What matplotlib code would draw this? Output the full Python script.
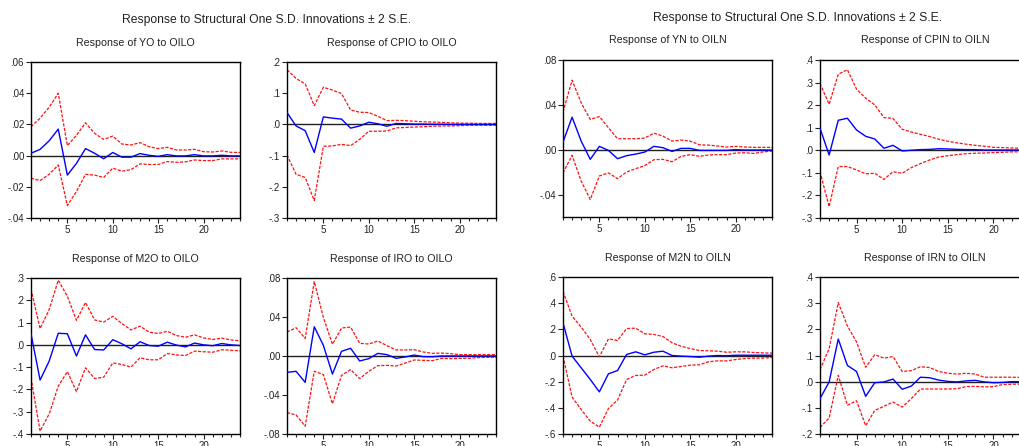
import matplotlib
matplotlib.use("Agg")
import matplotlib.pyplot as plt
from matplotlib.ticker import FixedLocator, MultipleLocator, FuncFormatter
import numpy as np

plt.rcParams['font.family'] = ['Liberation Sans', 'DejaVu Sans']

periods = list(range(1, 25))

# ---------------- Left block (O variables, shock OILO) ----------------
yo_resp = [0.0015, 0.004, 0.0095, 0.017, -0.0125, -0.005, 0.0045, 0.0015, -0.002, 0.002, -0.001, -0.001,
           0.0013, 0.0002, -0.0005, 0.0006, -0.0002, -0.0002, 0.0006, -0.0002, -0.0002, 0.0002, -0.0002, -0.0002]
yo_upper = [0.0185, 0.024, 0.031, 0.040, 0.0064, 0.013, 0.021, 0.0143, 0.0104, 0.0125, 0.0074, 0.0068,
            0.0083, 0.0057, 0.0045, 0.0053, 0.0036, 0.0036, 0.004, 0.0025, 0.0023, 0.003, 0.0021, 0.002]
yo_lower = [-0.0145, -0.016, -0.012, -0.006, -0.032, -0.023, -0.012, -0.0125, -0.014, -0.008, -0.010, -0.009,
            -0.0053, -0.0057, -0.0057, -0.0038, -0.0043, -0.004, -0.0028, -0.0032, -0.0032, -0.0021, -0.0021, -0.0021]

cpio_resp = [0.038, -0.005, -0.02, -0.09, 0.024, 0.02, 0.017, -0.012, -0.005, 0.007, 0.002, -0.006,
             0.003, 0.002, 0.001, 0.001, 0.0005, 0.0005, 0.0, 0.0, 0.0, 0.0, 0.0, 0.0]
cpio_upper = [0.175, 0.147, 0.13, 0.06, 0.119, 0.11, 0.099, 0.046, 0.039, 0.038, 0.026, 0.012,
              0.013, 0.012, 0.01, 0.0085, 0.0075, 0.0065, 0.005, 0.004, 0.004, 0.003, 0.003, 0.003]
cpio_lower = [-0.098, -0.16, -0.17, -0.244, -0.07, -0.069, -0.064, -0.068, -0.048, -0.022, -0.022, -0.021,
              -0.011, -0.01, -0.0085, -0.0075, -0.006, -0.005, -0.005, -0.004, -0.003, -0.003, -0.003, -0.003]

m2o_resp = [0.05, -0.158, -0.073, 0.052, 0.05, -0.05, 0.045, -0.021, -0.023, 0.023, 0.005, -0.018,
            0.014, -0.003, -0.006, 0.012, -0.001, -0.009, 0.008, 0.0, -0.004, 0.006, 0.0, -0.003]
m2o_upper = [0.25, 0.073, 0.158, 0.29, 0.218, 0.11, 0.19, 0.112, 0.102, 0.128, 0.096, 0.067,
             0.084, 0.057, 0.051, 0.061, 0.042, 0.034, 0.045, 0.031, 0.024, 0.03, 0.022, 0.018]
m2o_lower = [-0.148, -0.387, -0.31, -0.185, -0.12, -0.21, -0.103, -0.151, -0.145, -0.081, -0.088, -0.10,
             -0.058, -0.067, -0.067, -0.039, -0.045, -0.048, -0.028, -0.031, -0.033, -0.022, -0.024, -0.027]

iro_resp = [-0.0168, -0.0157, -0.027, 0.030, 0.011, -0.0185, 0.0048, 0.0079, -0.0051, -0.0027, 0.0027, 0.0014,
            -0.0024, -0.001, 0.001, -0.0007, -0.0008, 0.0, 0.0, 0.0, 0.0, 0.0, 0.0, 0.0]
iro_upper = [0.0246, 0.029, 0.018, 0.0762, 0.0397, 0.012, 0.0287, 0.0297, 0.013, 0.0123, 0.0154, 0.0106,
             0.0062, 0.0062, 0.0065, 0.0041, 0.0027, 0.003, 0.0024, 0.0014, 0.0014, 0.0014, 0.0014, 0.0014]
iro_lower = [-0.058, -0.0605, -0.072, -0.0157, -0.019, -0.049, -0.0198, -0.014, -0.0232, -0.0157, -0.0099, -0.0096,
             -0.0103, -0.0072, -0.0041, -0.0044, -0.0048, -0.0024, -0.0027, -0.0024, -0.0024, -0.0017, -0.0014, -0.0014]

# ---------------- Right block (N variables, shock OILN) ----------------
yn_resp = [0.0068, 0.029, 0.0077, -0.0086, 0.003, -0.0006, -0.008, -0.0053, -0.0039, -0.0021, 0.003, 0.0018,
           -0.0015, 0.0012, 0.0012, -0.0006, -0.0006, -0.0006, -0.0006, 0.0, -0.0003, -0.0003, -0.0003, -0.0003]
yn_upper = [0.0335, 0.062, 0.0418, 0.027, 0.0296, 0.0196, 0.0098, 0.0098, 0.0098, 0.0104, 0.0148, 0.0121,
            0.0077, 0.0086, 0.0077, 0.0044, 0.0041, 0.0033, 0.0024, 0.003, 0.0024, 0.0021, 0.0021, 0.0021]
yn_lower = [-0.0207, -0.005, -0.028, -0.0444, -0.0234, -0.0207, -0.0258, -0.0199, -0.0169, -0.0142, -0.0089, -0.0086,
            -0.0107, -0.0059, -0.0044, -0.0059, -0.0047, -0.0044, -0.0044, -0.003, -0.0027, -0.0033, -0.002, -0.0012]

cpin_resp = [0.098, -0.021, 0.133, 0.142, 0.09, 0.062, 0.05, 0.009, 0.022, -0.003, 0.0, 0.003,
             0.004, 0.007, 0.006, 0.004, 0.003, 0.003, 0.001, 0.001, 0.001, 0.001, 0.001, 0.001]
cpin_upper = [0.296, 0.204, 0.337, 0.357, 0.271, 0.231, 0.201, 0.145, 0.141, 0.093, 0.081, 0.071,
              0.061, 0.049, 0.04, 0.033, 0.027, 0.022, 0.018, 0.013, 0.012, 0.01, 0.009, 0.007]
cpin_lower = [-0.095, -0.25, -0.072, -0.072, -0.087, -0.104, -0.102, -0.129, -0.095, -0.102, -0.077, -0.059,
              -0.043, -0.03, -0.024, -0.019, -0.015, -0.013, -0.012, -0.01, -0.009, -0.007, -0.007, -0.006]

m2n_resp = [0.25, -0.005, -0.094, -0.183, -0.278, -0.14, -0.115, 0.008, 0.028, 0.005, 0.025, 0.033,
            0.0, -0.005, -0.008, -0.013, -0.005, 0.0, -0.002, 0.002, 0.002, 0.002, 0.002, 0.002]
m2n_upper = [0.49, 0.30, 0.217, 0.122, -0.01, 0.127, 0.115, 0.206, 0.209, 0.166, 0.161, 0.145,
             0.097, 0.071, 0.053, 0.038, 0.036, 0.033, 0.025, 0.028, 0.028, 0.023, 0.02, 0.018]
m2n_lower = [-0.005, -0.318, -0.413, -0.502, -0.548, -0.405, -0.341, -0.183, -0.153, -0.15, -0.107, -0.079,
             -0.094, -0.084, -0.074, -0.071, -0.048, -0.041, -0.041, -0.031, -0.023, -0.02, -0.02, -0.015]

irn_resp = [-0.065, -0.001, 0.163, 0.062, 0.039, -0.056, -0.004, -0.001, 0.01, -0.029, -0.017, 0.017,
            0.015, 0.006, 0.001, -0.001, 0.003, 0.005, -0.001, -0.004, -0.003, 0.0, 0.0, 0.0]
irn_upper = [0.046, 0.126, 0.302, 0.213, 0.152, 0.055, 0.103, 0.09, 0.096, 0.039, 0.042, 0.057,
             0.054, 0.039, 0.032, 0.029, 0.032, 0.029, 0.017, 0.017, 0.017, 0.017, 0.016, 0.014]
irn_lower = [-0.175, -0.139, 0.024, -0.09, -0.073, -0.168, -0.11, -0.094, -0.078, -0.097, -0.065, -0.028,
             -0.028, -0.028, -0.028, -0.027, -0.019, -0.018, -0.02, -0.019, -0.011, -0.01, -0.009, -0.009]

main_title = "Response to Structural One S.D. Innovations \u00b1 2 S.E."

W, H = 1019, 446
fig = plt.figure(figsize=(W / 100, H / 100), dpi=100)
fig.patch.set_facecolor('white')


def fmt_factory(decimals):
    def f(v, pos):
        s = f"{v:.{decimals}f}"
        if s.startswith("-0"):
            s = "-" + s[2:]
        elif s.startswith("0"):
            s = s[1:]
        return s
    return FuncFormatter(f)


def panel(box, title, resp, upper, lower, ylim, yticks, decimals, title_y):
    x0, y0, x1, y1 = box
    ax = fig.add_axes([x0 / W, 1 - y1 / H, (x1 - x0) / W, (y1 - y0) / H])
    ax.axhline(0, color='#202020', lw=1.0, zorder=1)
    ax.plot(periods, upper, color='#FF1010', lw=0.9, ls=(0, (2.5, 1.2)), zorder=2)
    ax.plot(periods, lower, color='#FF1010', lw=0.9, ls=(0, (2.5, 1.2)), zorder=2)
    ax.plot(periods, resp, color='#0000FF', lw=1.0, zorder=3)
    ax.set_xlim(1, 24)
    ax.set_ylim(*ylim)
    ax.yaxis.set_major_locator(FixedLocator(yticks))
    ax.yaxis.set_major_formatter(fmt_factory(decimals))
    ax.xaxis.set_major_locator(FixedLocator([5, 10, 15, 20]))
    ax.xaxis.set_minor_locator(MultipleLocator(1))
    ax.tick_params(axis='both', which='major', direction='out', length=3.5, width=0.8,
                   labelsize=7, colors='#222222', pad=1.5)
    ax.tick_params(axis='x', which='minor', direction='out', length=2.5, width=0.8, colors='#222222')
    for sp in ax.spines.values():
        sp.set_color('black')
        sp.set_linewidth(1.0)
    fig.text((x0 + x1) / 2 / W, 1 - title_y / H, title, ha='center', va='center',
             fontsize=7.7, color='#222222')
    return ax


# left block
panel((31, 62, 240, 218), "Response of YO to OILO", yo_resp, yo_upper, yo_lower,
      (-0.04, 0.06), [-0.04, -0.02, 0.0, 0.02, 0.04, 0.06], 2, 43)
panel((287, 62, 496, 218), "Response of CPIO to OILO", cpio_resp, cpio_upper, cpio_lower,
      (-0.3, 0.2), [-0.3, -0.2, -0.1, 0.0, 0.1, 0.2], 1, 43)
panel((31, 278, 240, 434), "Response of M2O to OILO", m2o_resp, m2o_upper, m2o_lower,
      (-0.4, 0.3), [-0.4, -0.3, -0.2, -0.1, 0.0, 0.1, 0.2, 0.3], 1, 259)
panel((287, 278, 496, 434), "Response of IRO to OILO", iro_resp, iro_upper, iro_lower,
      (-0.08, 0.08), [-0.08, -0.04, 0.0, 0.04, 0.08], 2, 259)

# right block
panel((563, 60, 772, 217), "Response of YN to OILN", yn_resp, yn_upper, yn_lower,
      (-0.06, 0.08), [-0.04, 0.0, 0.04, 0.08], 2, 40)
panel((820, 60, 1030, 218), "Response of CPIN to OILN", cpin_resp, cpin_upper, cpin_lower,
      (-0.3, 0.4), [-0.3, -0.2, -0.1, 0.0, 0.1, 0.2, 0.3, 0.4], 1, 40)
panel((563, 277, 772, 434), "Response of M2N to OILN", m2n_resp, m2n_upper, m2n_lower,
      (-0.6, 0.6), [-0.6, -0.4, -0.2, 0.0, 0.2, 0.4, 0.6], 1, 258)
panel((820, 277, 1030, 434), "Response of IRN to OILN", irn_resp, irn_upper, irn_lower,
      (-0.2, 0.4), [-0.2, -0.1, 0.0, 0.1, 0.2, 0.3, 0.4], 1, 258)

fig.text(267 / W, 1 - 20 / H, main_title, ha='center', va='center', fontsize=8.7, color='#222222')
fig.text(798 / W, 1 - 18 / H, main_title, ha='center', va='center', fontsize=8.7, color='#222222')

fig.savefig("out.png", dpi=100, facecolor='white')
